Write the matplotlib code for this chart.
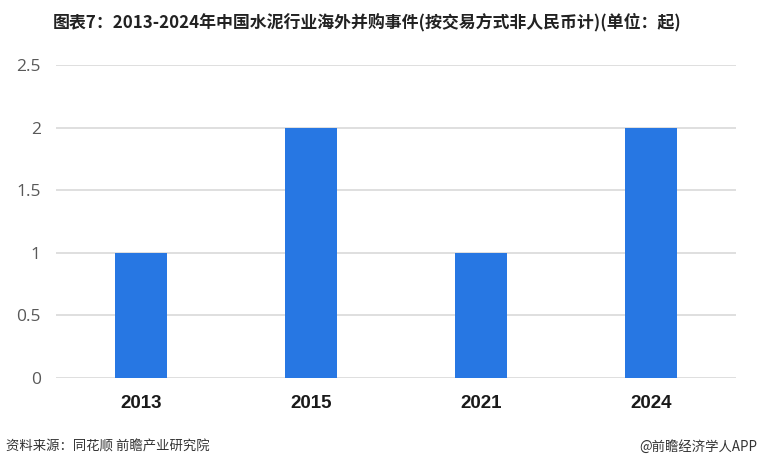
import matplotlib
matplotlib.use("Agg")
import matplotlib.pyplot as plt

plt.rcParams['font.family'] = ['Noto Sans CJK SC', 'DejaVu Sans']

# data
years = ["2013", "2015", "2021", "2024"]
deals = [1, 2, 1, 2]
y_ticks = [0, 0.5, 1, 1.5, 2, 2.5]
y_tick_labels = ["0", "0.5", "1", "1.5", "2", "2.5"]

title = "图表7：2013-2024年中国水泥行业海外并购事件(按交易方式非人民币计)(单位：起)"
source = "资料来源：同花顺 前瞻产业研究院"
credit = "@前瞻经济学人APP"

bar_color = "#2777E3"

fig = plt.figure(figsize=(7.6, 4.68), dpi=100)
ax = fig.add_axes([0.0737, 0.1923, 0.8947, 0.668])

x = list(range(len(years)))
ax.bar(x, deals, width=0.31, color=bar_color, zorder=3)

ax.set_xlim(-0.5, len(years) - 0.5)
ax.set_ylim(0, 2.5)
ax.set_yticks(y_ticks)
ax.set_yticklabels(y_tick_labels, fontsize=12.5, color="#595959", family=["Open Sans", "DejaVu Sans"])
ax.set_xticks(x)
ax.set_xticklabels(years, fontsize=13.5, color="#1a1a1a", fontweight="bold",
                   family=["Liberation Sans", "DejaVu Sans"])
ax.tick_params(axis="y", length=0, pad=11)
ax.tick_params(axis="x", length=0, pad=12)

ax.grid(axis="y", color="#d9d9d9", linewidth=1.2, zorder=0)
for spine in ax.spines.values():
    spine.set_visible(False)

fig.text(0.483, 0.952, title, ha="center", va="center", fontsize=12.2, fontweight="bold", color="#222222")
fig.text(0.008, 0.045, source, ha="left", va="center", fontsize=9.6, color="#333333")
fig.text(0.996, 0.045, credit, ha="right", va="center", fontsize=9.6, color="#333333")

fig.savefig("out.png", dpi=100)
